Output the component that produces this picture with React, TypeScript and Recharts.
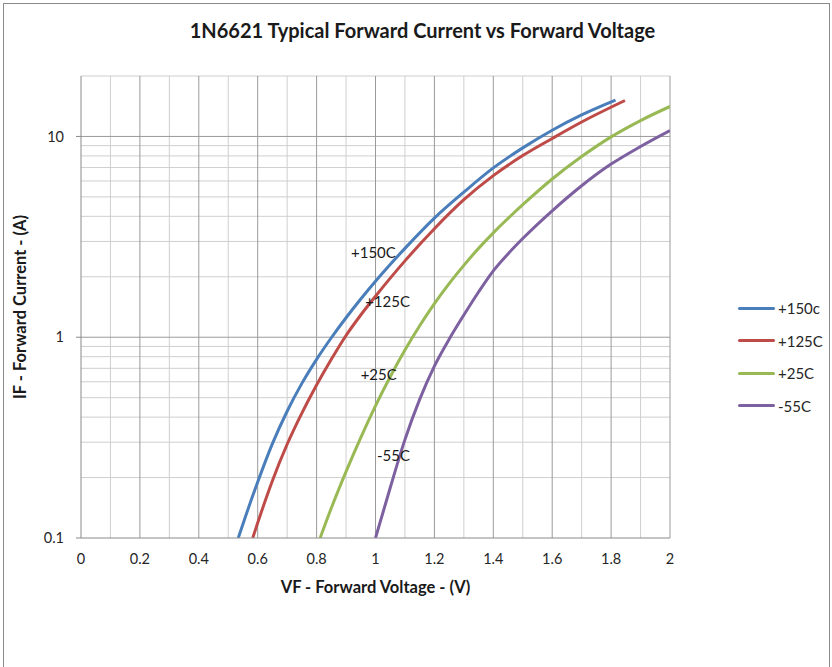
import { LineChart, Line, XAxis, YAxis, ReferenceLine, ReferenceDot } from "recharts";

// Forward voltage (V) / forward current (A)
const v150 = [0.534, 0.55, 0.6, 0.65, 0.7, 0.75, 0.8, 0.85, 0.9, 0.95, 1.0, 1.1, 1.2, 1.3, 1.4, 1.5, 1.6, 1.7, 1.815];
const i150 = [0.1, 0.1175, 0.19, 0.295, 0.428, 0.589, 0.776, 0.994, 1.25, 1.55, 1.9, 2.77, 3.92, 5.28, 6.97, 8.77, 10.74, 12.8, 15.17];

const v125 = [0.583, 0.6, 0.65, 0.7, 0.75, 0.8, 0.85, 0.9, 0.95, 1.0, 1.1, 1.2, 1.3, 1.4, 1.5, 1.6, 1.7, 1.847];
const i125 = [0.1, 0.119, 0.193, 0.293, 0.419, 0.578, 0.776, 1.02, 1.29, 1.6, 2.4, 3.47, 4.84, 6.38, 8.03, 9.77, 11.8, 15.1];

const v25 = [0.812, 0.85, 0.9, 0.95, 1.0, 1.05, 1.1, 1.15, 1.2, 1.25, 1.3, 1.35, 1.4, 1.5, 1.6, 1.7, 1.8, 1.9, 2.0];
const i25 = [0.1, 0.141, 0.214, 0.316, 0.455, 0.635, 0.863, 1.14, 1.47, 1.85, 2.28, 2.77, 3.31, 4.57, 6.14, 7.94, 9.95, 12.0, 14.1];

const vm55 = [1.0, 1.05, 1.1, 1.15, 1.2, 1.25, 1.3, 1.35, 1.4, 1.45, 1.5, 1.6, 1.7, 1.8, 1.9, 2.0];
const im55 = [0.1, 0.178, 0.309, 0.49, 0.718, 0.977, 1.29, 1.68, 2.14, 2.6, 3.1, 4.26, 5.68, 7.28, 8.91, 10.7];

const seriesNames = ["+150c", "+125C", "+25C", "-55C"];
const seriesColors = ["#4a7ebb", "#be4b48", "#98b954", "#7d60a0"];

// curve labels placed on the plot (data coordinates)
const curveLabels = ["+150C", "+125C", "+25C", "-55C"];
const labelV = [0.993, 1.041, 1.011, 1.061];
const labelI = [2.64, 1.51, 0.652, 0.257];

const xTicks = [0, 0.2, 0.4, 0.6, 0.8, 1, 1.2, 1.4, 1.6, 1.8, 2];
const yTicks = [0.1, 1, 10];
const xMinorGrid = [0.1, 0.3, 0.5, 0.7, 0.9, 1.1, 1.3, 1.5, 1.7, 1.9];
const xMajorGrid = [0.2, 0.4, 0.6, 0.8, 1, 1.2, 1.4, 1.6, 1.8, 2];
const yMinorGrid = [0.2, 0.3, 0.4, 0.5, 0.6, 0.7, 0.8, 0.9, 2, 3, 4, 5, 6, 7, 8, 9, 20];
const yMajorGrid = [1, 10];

const toRows = (vs: number[], is: number[]) => vs.map((v, k) => ({ v, i: is[k] }));
const seriesData = [toRows(v150, i150), toRows(v125, i125), toRows(v25, i25), toRows(vm55, im55)];

const font = "Lato, 'Noto Sans', sans-serif";
const textColor = "#262626";

export default function App() {
  return (
    <div style={{ position: "absolute", left: 0, top: 0, width: 832, height: 667, overflow: "hidden", background: "#fff", fontFamily: font }}>
      <div style={{ position: "absolute", left: 3, top: 3, width: 825, height: 700, border: "1px solid #8a8a8a" }} />

      <div style={{ position: "absolute", left: 0, top: 18, width: 845, textAlign: "center", fontSize: 20, fontWeight: 700, color: "#1a1a1a" }}>
        1N6621 Typical Forward Current vs Forward Voltage
      </div>

      <div style={{ position: "absolute", left: 0, top: 0 }}>
        <LineChart width={832} height={667} margin={{ top: 76, right: 162, bottom: 99, left: 21 }}>
          <XAxis
            dataKey="v"
            type="number"
            domain={[0, 2]}
            ticks={xTicks}
            allowDataOverflow
            height={30}
            tickLine={false}
            tickMargin={10}
            axisLine={{ stroke: "#8a8a8a" }}
            tick={{ fill: textColor, fontSize: 14.5, fontFamily: font }}
            label={{ value: "VF - Forward Voltage - (V)", position: "bottom", offset: 13, fill: "#1a1a1a", fontSize: 16.5, fontWeight: 700, fontFamily: font }}
          />
          <YAxis
            scale="log"
            domain={[0.1, 20]}
            ticks={yTicks}
            allowDataOverflow
            width={60}
            tickSize={5}
            tickMargin={12}
            tickLine={{ stroke: "#8a8a8a" }}
            axisLine={{ stroke: "#8a8a8a" }}
            tick={{ fill: textColor, fontSize: 14.5, fontFamily: font }}
            label={{ value: "IF - Forward Current - (A)", angle: -90, position: "insideLeft", offset: -1, fill: "#1a1a1a", fontSize: 16.5, fontWeight: 700, fontFamily: font, style: { textAnchor: "middle" } }}
          />

          {yMinorGrid.map((y) => (
            <ReferenceLine key={"ym" + y} y={y} stroke="#cfcfcf" strokeWidth={1} />
          ))}
          {xMinorGrid.map((x) => (
            <ReferenceLine key={"xm" + x} x={x} stroke="#cfcfcf" strokeWidth={1} />
          ))}
          {yMajorGrid.map((y) => (
            <ReferenceLine key={"yM" + y} y={y} stroke="#9a9a9a" strokeWidth={1} />
          ))}
          {xMajorGrid.map((x) => (
            <ReferenceLine key={"xM" + x} x={x} stroke="#9a9a9a" strokeWidth={1} />
          ))}

          {seriesData.map((rows, k) => (
            <Line
              key={seriesNames[k]}
              data={rows}
              dataKey="i"
              name={seriesNames[k]}
              type="monotone"
              stroke={seriesColors[k]}
              strokeWidth={3}
              dot={false}
              activeDot={false}
              isAnimationActive={false}
            />
          ))}

          {curveLabels.map((t, k) => (
            <ReferenceDot
              key={t}
              x={labelV[k]}
              y={labelI[k]}
              r={0}
              fill="none"
              stroke="none"
              label={{ value: t, position: "center", fill: "#1a1a1a", fontSize: 15, fontFamily: font }}
            />
          ))}
        </LineChart>
      </div>

      {seriesNames.map((n, k) => (
        <div key={n} style={{ position: "absolute", left: 738, top: 299 + k * 32.5, height: 18, display: "flex", alignItems: "center", fontSize: 15, color: textColor }}>
          <div style={{ width: 37, height: 3, background: seriesColors[k], borderRadius: 1.5, marginRight: 3 }} />
          <span>{n}</span>
        </div>
      ))}
    </div>
  );
}
